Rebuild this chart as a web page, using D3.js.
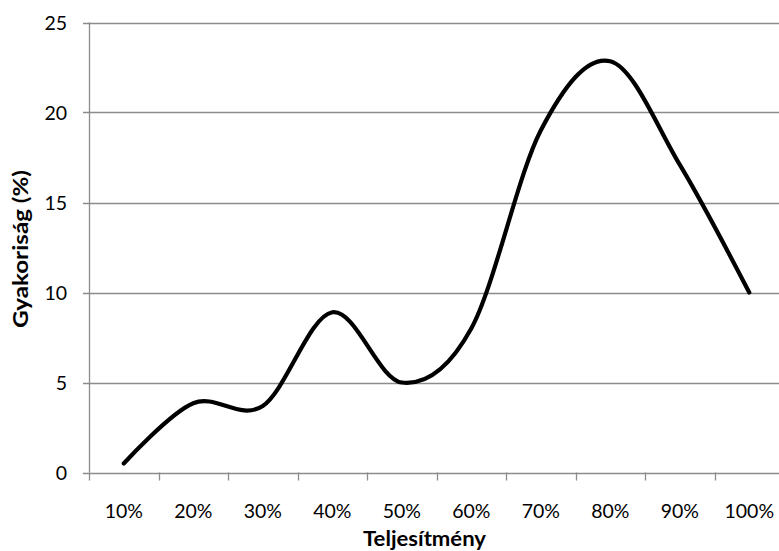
<!DOCTYPE html>
<html>
<head>
<meta charset="utf-8">
<script src="https://cdn.jsdelivr.net/npm/d3@7"></script>
<style>
  html, body { margin: 0; padding: 0; background: #fff; }
  svg { display: block; font-family: Lato, "Open Sans", sans-serif; }
</style>
</head>
<body>
<svg id="chart" width="779" height="551"></svg>
<script>
// Performance categories and their frequency (%)
const categories = ["10%", "20%", "30%", "40%", "50%", "60%", "70%", "80%", "90%", "100%"];
const frequency = [0.5, 3.85, 3.7, 8.9, 5.0, 8.0, 19.0, 22.85, 17.1, 10.0];
const yTicks = [0, 5, 10, 15, 20, 25];

const svg = d3.select("#chart");
const plot = { left: 89, right: 784, top: 22.5, bottom: 472.5 };

const x = d3.scaleBand()
  .domain(categories)
  .range([plot.left, plot.right]);

const y = d3.scaleLinear()
  .domain([0, 25])
  .range([plot.bottom, plot.top]);

const gridColor = "#8c8c8c";
const tickFont = 19.5;
const titleFont = 20.5;

// Horizontal gridlines with short ticks left of the value axis
svg.append("g")
  .selectAll("line")
  .data(yTicks)
  .join("line")
  .attr("x1", plot.left - 6)
  .attr("x2", plot.right)
  .attr("y1", d => Math.round(y(d)) + 0.5)
  .attr("y2", d => Math.round(y(d)) + 0.5)
  .attr("stroke", gridColor)
  .attr("stroke-width", 1.3);

// Value axis line
svg.append("line")
  .attr("x1", plot.left + 0.5).attr("x2", plot.left + 0.5)
  .attr("y1", y(25)).attr("y2", y(0))
  .attr("stroke", gridColor)
  .attr("stroke-width", 1.3);

// Value axis labels
svg.append("g")
  .selectAll("text")
  .data(yTicks)
  .join("text")
  .attr("x", 67)
  .attr("y", d => y(d))
  .attr("dy", "0.36em")
  .attr("text-anchor", "end")
  .attr("font-size", tickFont)
  .attr("fill", "#000")
  .text(d => d);

// Category tick marks between categories
const boundaries = categories.map(c => x(c)).concat([plot.right]);
svg.append("g")
  .selectAll("line")
  .data(boundaries)
  .join("line")
  .attr("x1", d => Math.round(d) + 0.5)
  .attr("x2", d => Math.round(d) + 0.5)
  .attr("y1", y(0))
  .attr("y2", y(0) + 8)
  .attr("stroke", gridColor)
  .attr("stroke-width", 1.3);

// Category labels
svg.append("g")
  .selectAll("text")
  .data(categories)
  .join("text")
  .attr("x", d => x(d) + x.bandwidth() / 2)
  .attr("y", 518)
  .attr("text-anchor", "middle")
  .attr("font-size", tickFont)
  .attr("fill", "#000")
  .text(d => d);

// Smoothed frequency line
const line = d3.line()
  .x((d, i) => x(categories[i]) + x.bandwidth() / 2)
  .y(d => y(d))
  .curve(d3.curveCardinal.tension(0));

svg.append("path")
  .datum(frequency)
  .attr("d", line)
  .attr("fill", "none")
  .attr("stroke", "#000")
  .attr("stroke-width", 4.2)
  .attr("stroke-linecap", "round")
  .attr("stroke-linejoin", "round");

// Axis titles
svg.append("text")
  .attr("x", 424.5)
  .attr("y", 546)
  .attr("text-anchor", "middle")
  .attr("font-size", titleFont)
  .attr("font-weight", "bold")
  .attr("fill", "#000")
  .attr("textLength", 123)
  .attr("lengthAdjust", "spacingAndGlyphs")
  .text("Teljesítmény");

svg.append("text")
  .attr("transform", `translate(28, 249) rotate(-90)`)
  .attr("text-anchor", "middle")
  .attr("font-size", titleFont)
  .attr("font-weight", "bold")
  .attr("fill", "#000")
  .attr("textLength", 158)
  .attr("lengthAdjust", "spacingAndGlyphs")
  .text("Gyakoriság (%)");
</script>
</body>
</html>
